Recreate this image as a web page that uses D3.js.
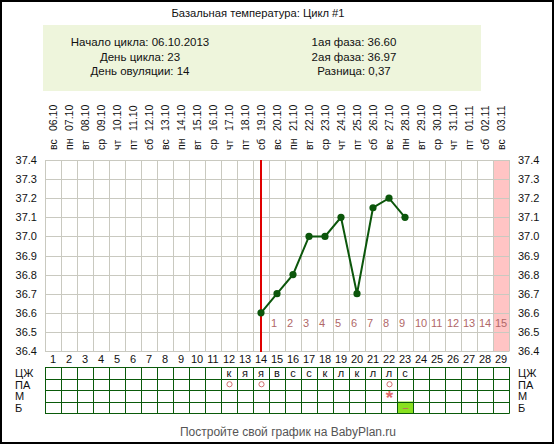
<!DOCTYPE html>
<html><head><meta charset="utf-8">
<script src="https://cdn.jsdelivr.net/npm/d3@7"></script>
<style>
html,body{margin:0;padding:0;background:#fff;}
svg{display:block;font-family:"Liberation Sans",Arial,sans-serif;}
</style></head>
<body><svg id="c" width="554" height="445"></svg>
<script>
const title = "Базальная температура: Цикл #1";
const infoLeft = ["Начало цикла: 06.10.2013", "День цикла: 23", "День овуляции: 14"];
const infoRight = ["1ая фаза: 36.60", "2ая фаза: 36.97", "Разница: 0,37"];
const footer = "Постройте свой график на BabyPlan.ru";
const dayNums = ["1","2","3","4","5","6","7","8","9","10","11","12","13","14","15","16","17","18","19","20","21","22","23","24","25","26","27","28","29"];
const dates = ["06.10","07.10","08.10","09.10","10.10","11.10","12.10","13.10","14.10","15.10","16.10","17.10","18.10","19.10","20.10","21.10","22.10","23.10","24.10","25.10","26.10","27.10","28.10","29.10","30.10","31.10","01.11","02.11","03.11"];
const weekdays = ["вс","пн","вт","ср","чт","пт","сб","вс","пн","вт","ср","чт","пт","сб","вс","пн","вт","ср","чт","пт","сб","вс","пн","вт","ср","чт","пт","сб","вс"];
const temps = [null,null,null,null,null,null,null,null,null,null,null,null,null,36.6,36.7,36.8,37.0,37.0,37.1,36.7,37.15,37.2,37.1,null,null,null,null,null,null];
const yTicks = [36.4,36.5,36.6,36.7,36.8,36.9,37.0,37.1,37.2,37.3,37.4];
const ovulationDay = "14";
const highlightDay = "29";
const phaseDays = ["15","16","17","18","19","20","21","22","23","24","25","26","27","28","29"];
const phaseNums = ["1","2","3","4","5","6","7","8","9","10","11","12","13","14","15"];
const rowLabels = ["ЦЖ","ПА","М","Б"];
const mucus = ["","","","","","","","","","","","к","я","я","в","с","с","к","л","к","л","л","с","","","","","",""];
const paDays = ["12","14","22"];
const mDays = ["22"];
const bDays = ["23"];

const svg = d3.select("#c");
const F = '"Liberation Sans",Arial,sans-serif';

svg.append("rect").attr("x",1).attr("y",1).attr("width",552).attr("height",442)
  .attr("fill","#fff").attr("stroke","#000").attr("stroke-width",2);

svg.append("text").attr("x",258).attr("y",17).attr("text-anchor","middle")
  .attr("font-size",11.2).attr("fill","#111").text(title);

svg.append("rect").attr("x",43).attr("y",25).attr("width",438).attr("height",66).attr("fill","#eef5dc");
infoLeft.forEach((t,i)=>svg.append("text").attr("x",140).attr("y",46+i*14.5).attr("text-anchor","middle")
  .attr("font-size",11.5).attr("fill","#111").text(t));
infoRight.forEach((t,i)=>svg.append("text").attr("x",354).attr("y",46+i*14.5).attr("text-anchor","middle")
  .attr("font-size",11.5).attr("fill","#111").text(t));

const x = d3.scaleBand().domain(dayNums).range([45,509]).padding(0);
const y = d3.scaleLinear().domain([36.4,37.4]).range([351,160]);
const bw = x.bandwidth();

svg.append("rect").attr("x",x(highlightDay)).attr("y",y(37.4)).attr("width",bw)
  .attr("height",y(36.4)-y(37.4)).attr("fill","#ffc4c4");

const g = svg.append("g");
g.selectAll("line.h").data(yTicks).join("line")
  .attr("x1",x.range()[0]).attr("x2",x.range()[1])
  .attr("y1",d=>Math.round(y(d))+0.5).attr("y2",d=>Math.round(y(d))+0.5)
  .attr("stroke","#c9c9c0").attr("stroke-width",1);
g.selectAll("line.v").data(d3.range(dayNums.length+1)).join("line")
  .attr("x1",i=>45+i*bw+0.5).attr("x2",i=>45+i*bw+0.5)
  .attr("y1",y(37.4)).attr("y2",y(36.4)+0.5)
  .attr("stroke","#c9c9c0").attr("stroke-width",1);

const yl = d3.axisLeft(y).tickValues(yTicks).tickFormat(d3.format(".1f")).tickSize(0).tickPadding(8);
const yr = d3.axisRight(y).tickValues(yTicks).tickFormat(d3.format(".1f")).tickSize(0).tickPadding(9);
const gl = svg.append("g").attr("transform","translate(45,0)").call(yl);
const gr = svg.append("g").attr("transform","translate(509,0)").call(yr);
[gl,gr].forEach(a=>{a.select(".domain").remove();
  a.selectAll("text").attr("font-size",11).attr("font-family",F).attr("fill","#111");});

const topG = svg.append("g");
dates.forEach((d,i)=>{
  const cx = x(dayNums[i]) + bw/2 + 4;
  topG.append("text").attr("transform",`translate(${cx},150) rotate(-90)`)
    .attr("font-size",10.5).attr("fill","#111").text(weekdays[i]);
  topG.append("text").attr("transform",`translate(${cx},131) rotate(-90)`)
    .attr("font-size",10.5).attr("fill","#111").text(d);
});

phaseDays.forEach((d,i)=>svg.append("text").attr("x",x(d)+2).attr("y",y(36.55)+5)
  .attr("font-size",11).attr("fill","#b06868").text(phaseNums[i]));

svg.append("line").attr("x1",x(ovulationDay)+bw/2).attr("x2",x(ovulationDay)+bw/2)
  .attr("y1",y(37.4)).attr("y2",y(36.4)+1).attr("stroke","#e00000").attr("stroke-width",2);

const pts = temps.map((t,i)=>({d:dayNums[i],t})).filter(p=>p.t!==null);
svg.append("path").datum(pts)
  .attr("d",d3.line().x(p=>x(p.d)+bw/2).y(p=>y(p.t)))
  .attr("fill","none").attr("stroke","#0b560b").attr("stroke-width",2);
svg.selectAll("circle.pt").data(pts).join("circle")
  .attr("cx",p=>x(p.d)+bw/2).attr("cy",p=>y(p.t)).attr("r",3.6).attr("fill","#0b560b");

dayNums.forEach(d=>svg.append("text").attr("x",x(d)+bw/2).attr("y",363).attr("text-anchor","middle")
  .attr("font-size",11).attr("fill","#111").text(d));

const r = d3.scaleBand().domain(rowLabels).range([367,413]);
const rh = r.bandwidth();
bDays.forEach(d=>svg.append("rect").attr("x",x(d)).attr("y",r("Б")).attr("width",bw).attr("height",rh).attr("fill","#88e020"));
const tb = svg.append("g");
d3.range(rowLabels.length+1).forEach(i=>tb.append("line").attr("x1",45).attr("x2",509.5)
  .attr("y1",Math.round(367+i*rh)+0.5).attr("y2",Math.round(367+i*rh)+0.5).attr("stroke","#0a5a0a"));
d3.range(dayNums.length+1).forEach(i=>tb.append("line").attr("x1",45+i*bw+0.5).attr("x2",45+i*bw+0.5)
  .attr("y1",367).attr("y2",413.5).attr("stroke","#0a5a0a"));
rowLabels.forEach((l,i)=>{
  const ly = r(l)+rh/2+4.5;
  svg.append("text").attr("x",15).attr("y",ly).attr("font-size",11).attr("fill","#111").text(l);
  svg.append("text").attr("x",518).attr("y",ly).attr("font-size",11).attr("fill","#111").text(l);
});
mucus.forEach((m,i)=>{ if(m) svg.append("text").attr("x",x(dayNums[i])+bw/2).attr("y",r("ЦЖ")+rh/2+4)
  .attr("text-anchor","middle").attr("font-size",11).attr("fill","#111").text(m);});
paDays.forEach(d=>svg.append("circle").attr("cx",x(d)+bw/2+0.5).attr("cy",r("ПА")+rh/2).attr("r",2.6)
  .attr("fill","none").attr("stroke","#d07070").attr("stroke-width",1));
mDays.forEach(d=>svg.append("text").attr("x",x(d)+bw/2+0.5).attr("y",r("М")+rh/2+8).attr("text-anchor","middle")
  .attr("font-size",19).attr("font-weight","bold").attr("fill","#e06a6a").text("*"));
bDays.forEach(d=>svg.append("text").attr("x",x(d)+bw/2+0.5).attr("y",r("Б")+rh/2+3.5).attr("text-anchor","middle")
  .attr("font-size",10).attr("fill","#c06060").text("–"));

svg.append("text").attr("x",288).attr("y",436).attr("text-anchor","middle")
  .attr("font-size",12).attr("fill","#555").text(footer);
</script></body></html>
